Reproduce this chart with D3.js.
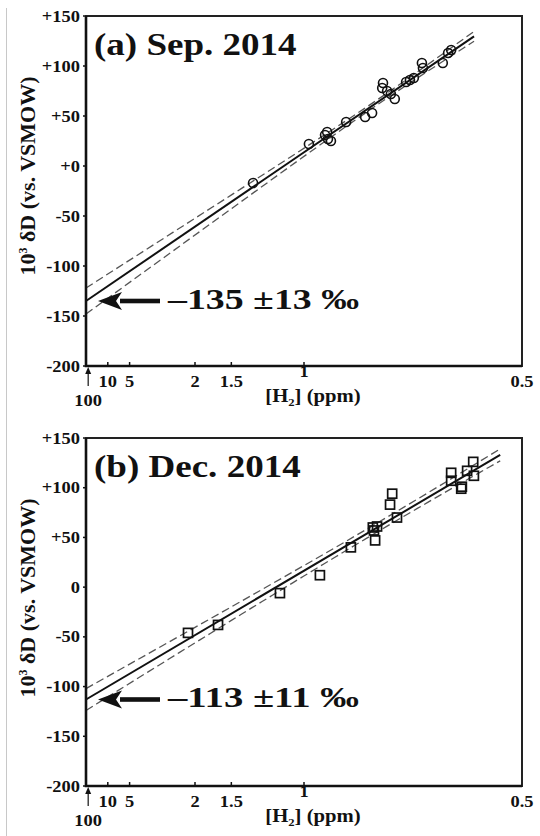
<!DOCTYPE html>
<html>
<head>
<meta charset="utf-8">
<title>dD vs 1/[H2]</title>
<script src="https://cdnjs.cloudflare.com/ajax/libs/d3/7.8.5/d3.min.js"></script>
<style>
  body { margin: 0; background: #fff; }
  text { font-family: "Liberation Serif", "Times New Roman", serif; font-weight: bold; fill: #111; }
</style>
</head>
<body>
<svg id="chart" width="540" height="836"></svg>
<script>
// ---- data ----
// (a) Sep. 2014 : [H2] in ppm, 10^3 dD in permil
var sepH2 = [1.305, 0.978, 0.912, 0.901, 0.890, 0.904, 0.838, 0.781, 0.762, 0.734, 0.736,
             0.724, 0.715, 0.706, 0.681, 0.673, 0.665, 0.649, 0.647, 0.611, 0.602, 0.597];
var sepDD = [-17, 22, 31, 27, 25, 34, 44, 49, 53, 83, 78,
             75, 72, 67, 84, 86, 88, 103, 98, 103, 113, 116];
// (b) Dec. 2014
var decH2 = [2.137, 1.651, 1.124, 0.932, 0.823, 0.760, 0.749, 0.757, 0.754, 0.717,
             0.712, 0.701, 0.597, 0.597, 0.581, 0.580, 0.572, 0.563, 0.562];
var decDD = [-46, -38, -6, 12, 40, 60, 61, 57, 47, 83,
             94, 70, 115, 107, 99, 101, 117, 126, 112];

// regression results (intercept at 1/[H2] = 0), per panel
var fitIntercept = [-135, -113];
var fitSlope = [148.7, 129.5];
var fitErr = [13, 11];
var fitEnd = [1.78, 1.90];      // 1/[H2] where the drawn fit stops
var bandMin = [2.5, 4.5];       // narrowest half-width of the dashed band

var panelTitles = ["(a) Sep. 2014", "(b) Dec. 2014"];
var interceptLabels = ["\u2013135 \u00b113 \u2030", "\u2013113 \u00b111 \u2030"];

var xTickPpm = [10, 5, 2, 1.5, 1, 0.5];
var yTickVals = [150, 100, 50, 0, -50, -100, -150, -200];
var yTickLabelsA = ["+150", "+100", "+50", "+0", "-50", "-100", "-150", "-200"];
var yTickLabelsB = ["+150", "+100", "+50", "0", "-50", "-100", "-150", "-200"];

// ---- drawing ----
var svg = d3.select("#chart");

// faint page edge seen in the scan
svg.append("line").attr("x1", 6.5).attr("x2", 6.5).attr("y1", 8).attr("y2", 836)
   .attr("stroke", "#c8c8c8").attr("stroke-width", 1);

function label(g, x, y, str, size, anchor, sx) {
    return g.append("text")
        .attr("transform", "translate(" + x + "," + y + ") scale(" + sx + ",1)")
        .attr("text-anchor", anchor)
        .style("font-size", size + "px")
        .text(str);
}

function drawPanel(i, top, bottom, h2, dd, yLabels, marker) {
    var left = 86, right = 522;
    var g = svg.append("g");

    var x = d3.scaleLinear().domain([0, 2]).range([left, right]);
    var y = d3.scaleLinear().domain([-200, 150]).range([bottom, top]);

    // y ticks (outward) and labels
    yTickVals.forEach(function(v, k) {
        g.append("line").attr("x1", left - 3).attr("x2", left)
         .attr("y1", y(v)).attr("y2", y(v)).attr("stroke", "#111").attr("stroke-width", 1.5);
        label(g, 80, y(v) + 5.5, yLabels[k], 16.5, "end", 1.12);
    });

    // x ticks (inward) at 1/[H2]
    xTickPpm.forEach(function(p) {
        var px = x(1 / p);
        if (p !== 0.5) {
            g.append("line").attr("x1", px).attr("x2", px)
             .attr("y1", bottom - 4).attr("y2", bottom).attr("stroke", "#111").attr("stroke-width", 1.5);
        }
        var by = (p === 1) ? bottom + 11 : bottom + 21;
        label(g, px, by, String(p), 16.5, "middle", 1.12);
    });

    // 100 ppm marker with small arrow
    var p100 = x(1 / 100);
    g.append("line").attr("x1", p100).attr("x2", p100)
     .attr("y1", bottom + 20).attr("y2", bottom + 4).attr("stroke", "#111").attr("stroke-width", 1.2);
    g.append("path")
     .attr("d", "M" + p100 + "," + (bottom + 1) + "l-3,7l6,0z").attr("fill", "#111");
    label(g, p100, bottom + 40, "100", 16.5, "middle", 1.12);

    // axis titles
    var xt = label(g, 313, bottom + 36, "[H", 18, "middle", 1.15);
    xt.text(null);
    xt.append("tspan").text("[H");
    xt.append("tspan").attr("dy", 4).style("font-size", "11px").text("2");
    xt.append("tspan").attr("dy", -4).text("] (ppm)");

    var yt = g.append("text")
        .attr("transform", "translate(35," + (top + 160) + ") rotate(-90)")
        .attr("text-anchor", "middle")
        .style("font-size", "22px");
    yt.append("tspan").text("10");
    yt.append("tspan").attr("dy", -8).style("font-size", "12px").text("3");
    yt.append("tspan").attr("dy", 8).text(" \u03b4D (vs. VSMOW)");

    // fit and confidence band
    var a = fitIntercept[i], b = fitSlope[i];
    var xm = d3.mean(h2, function(v) { return 1 / v; });
    var k2 = (fitErr[i] * fitErr[i] - bandMin[i] * bandMin[i]) / (xm * xm);
    var xs = d3.range(0, 41).map(function(j) { return fitEnd[i] * j / 40; });
    function half(t) { return Math.sqrt(bandMin[i] * bandMin[i] + k2 * (t - xm) * (t - xm)); }

    var line = d3.line().x(function(d) { return x(d[0]); }).y(function(d) { return y(d[1]); });

    [1, -1].forEach(function(s) {
        g.append("path")
         .attr("d", line(xs.map(function(t) { return [t, a + b * t + s * half(t)]; })))
         .attr("fill", "none").attr("stroke", "#555").attr("stroke-width", 1.3)
         .attr("stroke-dasharray", "8,4");
    });
    g.append("path")
     .attr("d", line([[0, a], [fitEnd[i], a + b * fitEnd[i]]]))
     .attr("fill", "none").attr("stroke", "#111").attr("stroke-width", 2);

    // data markers
    var pts = h2.map(function(v, j) { return { x: 1 / v, y: dd[j] }; });
    if (marker === "circle") {
        g.selectAll("circle.pt").data(pts).enter().append("circle")
         .attr("class", "pt")
         .attr("cx", function(d) { return x(d.x); })
         .attr("cy", function(d) { return y(d.y); })
         .attr("r", 4.5)
         .attr("fill", "none").attr("stroke", "#111").attr("stroke-width", 1.6);
    } else {
        g.selectAll("rect.pt").data(pts).enter().append("rect")
         .attr("class", "pt")
         .attr("x", function(d) { return x(d.x) - 4.5; })
         .attr("y", function(d) { return y(d.y) - 4.5; })
         .attr("width", 9).attr("height", 9)
         .attr("fill", "none").attr("stroke", "#111").attr("stroke-width", 1.7);
    }

    // frame
    g.append("rect").attr("x", left).attr("y", top)
     .attr("width", right - left).attr("height", bottom - top)
     .attr("fill", "none").attr("stroke", "#222").attr("stroke-width", 2);
    g.append("path").attr("d", "M" + left + "," + top + "V" + bottom + "H" + right)
     .attr("fill", "none").attr("stroke", "#111").attr("stroke-width", 2.6);

    // title
    label(g, 94, top + 39, panelTitles[i], 32.5, "start", 1.14);

    // intercept arrow and value
    var ay = y(a);
    g.append("path")
     .attr("d", "M" + (left + 12) + "," + ay + "l24,-9l-6,9l6,9z")
     .attr("fill", "#111");
    g.append("rect").attr("x", left + 34).attr("y", ay - 2.3)
     .attr("width", 40).attr("height", 4.6).attr("fill", "#111");
    g.append("text")
     .attr("x", 168).attr("y", ay + 8)
     .attr("textLength", 191).attr("lengthAdjust", "spacingAndGlyphs")
     .style("font-size", "30px")
     .text(interceptLabels[i]);
}

drawPanel(0, 16, 366, sepH2, sepDD, yTickLabelsA, "circle");
drawPanel(1, 438, 786, decH2, decDD, yTickLabelsB, "square");
</script>
</body>
</html>
